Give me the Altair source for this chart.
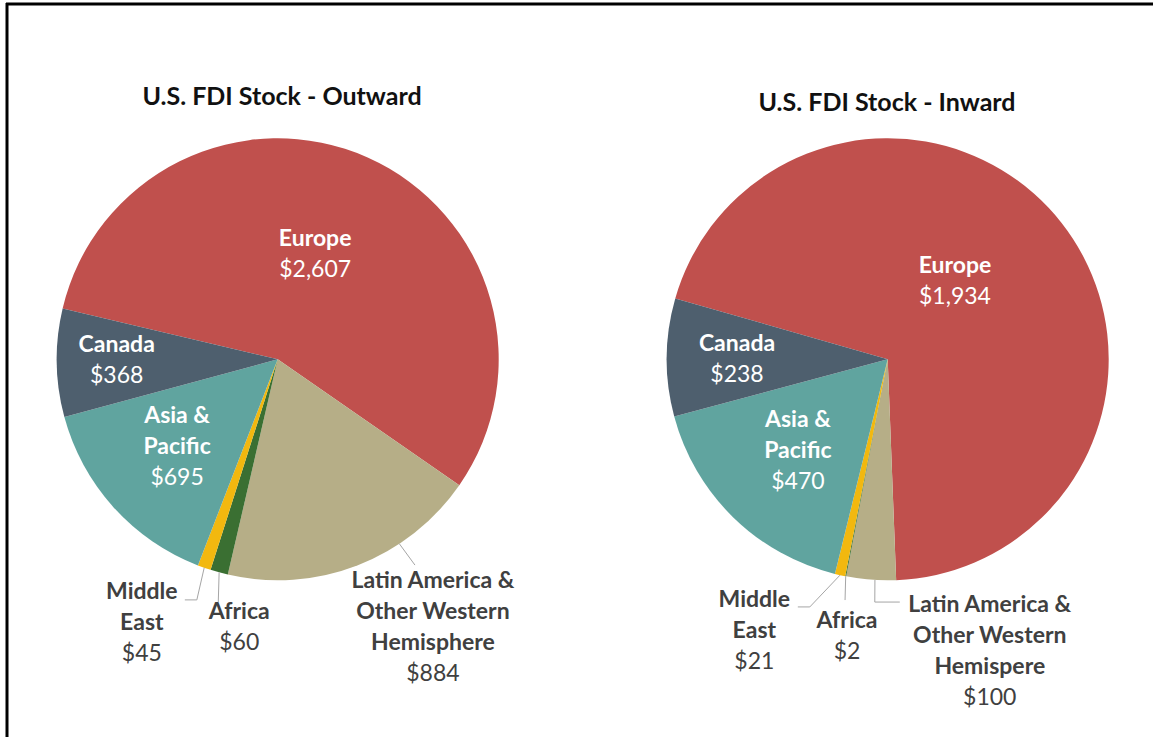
import math
import altair as alt
import pandas as pd

# ---------------- data ----------------
regions = ["Europe", "Latin America & Other Western Hemisphere", "Africa",
           "Middle East", "Asia & Pacific", "Canada"]
outward_values = [2607, 884, 60, 45, 695, 368]
inward_values = [1934, 100, 2, 21, 470, 238]
outward_labels = ["Europe", "Latin America &\nOther Western\nHemisphere", "Africa",
                  "Middle\nEast", "Asia &\nPacific", "Canada"]
inward_labels = ["Europe", "Latin America &\nOther Western\nHemispere", "Africa",
                 "Middle\nEast", "Asia &\nPacific", "Canada"]
titles = ["U.S. FDI Stock - Outward", "U.S. FDI Stock - Inward"]

# ---------------- style ----------------
palette = ["#C0504D", "#B6AE87", "#3A6F32", "#F2B80F", "#60A49F", "#4E5F6E"]
inside_regions = ["Europe", "Canada", "Asia & Pacific"]
FONT = "Lato"
FS = 23
LH = 31
R = 221
W, H = 1153, 737

pie_specs = [
    dict(cx=277.7, cy=359.3, start=283.3, title_x=282, title_y=97,
         place={"Europe": (111, -4.3), "Canada": (161, 0.4), "Asia & Pacific": (133.5, 0.9),
                "Middle East": (297, 7.8), "Africa": (270.5, -7.2),
                "Latin America & Other Western Hemisphere": (309.5, -9.0)},
         leaders={"Middle East": (0, 55, -23.5, 43, -23.5),
                  "Africa": (0, -21, -25, -21, -25),
                  "Latin America & Other Western Hemisphere": (-12.3, -18, -62, -18, -62)}),
    dict(cx=887.7, cy=359.3, start=286.0, title_x=887, title_y=103,
         place={"Europe": (102.5, -10.9), "Canada": (150.7, -0.4), "Asia & Pacific": (128.3, 0),
                "Middle East": (302.6, 13.7), "Africa": (279.7, -2.6),
                "Latin America & Other Western Hemisphere": (309.1, -23.6)},
         leaders={"Middle East": (0, 55.5, -24, 43.5, -24),
                  "Africa": (0, -2, -36, -2, -36),
                  "Latin America & Other Western Hemisphere": (-1.0, -115, -49, -90, -49)}),
]


def pie_layers(values, labels, spec):
    df = pd.DataFrame({"region": regions, "label": labels, "value": values,
                       "order": list(range(len(regions)))})
    df["inside"] = df["region"].isin(inside_regions)
    df["lr"] = [spec["place"][r][0] for r in regions]
    df["loff"] = [spec["place"][r][1] for r in regions]
    ld = [spec["leaders"].get(r, (0, 0, 0, 0, 0)) for r in regions]
    df["lead_off"] = [v[0] for v in ld]
    df["kdx"] = [v[1] for v in ld]
    df["kdy"] = [v[2] for v in ld]
    df["tdx"] = [v[3] for v in ld]
    df["tdy"] = [v[4] for v in ld]
    cx, cy = spec["cx"], spec["cy"]
    start = math.radians(spec["start"])

    base = (
        alt.Chart(df)
        .transform_joinaggregate(total="sum(value)")
        .transform_window(cum="sum(value)", sort=[alt.SortField("order", order="ascending")],
                          frame=[None, 0])
        .transform_calculate(
            a1=f"{start} + 2*PI*datum.cum/datum.total",
            a0="datum.a1 - 2*PI*datum.value/datum.total",
            mid="(datum.a0 + datum.a1)/2",
            la="datum.mid + datum.loff*PI/180",
            bx=f"{cx} + datum.lr*sin(datum.la)",
            by=f"{cy} - datum.lr*cos(datum.la)",
            nl="length(split(datum.label, '\\n')) + 1",
            ny=f"datum.by - (datum.nl - 1)*{LH}/2",
            vy=f"datum.by + (datum.nl - 1)*{LH}/2",
            vtext="'$' + format(datum.value, ',')",
            le="datum.mid + datum.lead_off*PI/180",
            ex=f"{cx} + {R}*sin(datum.le)",
            ey=f"{cy} - {R}*cos(datum.le)",
            kx="datum.bx + datum.kdx",
            ky="datum.by + datum.kdy",
            tx="datum.bx + datum.tdx",
            ty="datum.by + datum.tdy",
        )
    )

    arcs = base.mark_arc(outerRadius=R).encode(
        theta=alt.Theta("a0:Q", scale=None),
        theta2="a1:Q",
        color=alt.Color("region:N", scale=alt.Scale(domain=regions, range=palette), legend=None),
        x=alt.value(cx),
        y=alt.value(cy),
    )

    def txt(filt, field, yfield, color, weight):
        return base.transform_filter(filt).mark_text(
            font=FONT, fontSize=FS, fontWeight=weight, color=color, align="center",
            baseline="middle", lineBreak="\n", lineHeight=LH,
        ).encode(
            x=alt.X("bx:Q", scale=None, axis=None),
            y=alt.Y(f"{yfield}:Q", scale=None, axis=None),
            text=f"{field}:N",
        )

    in_names = txt("datum.inside", "label", "ny", "white", "bold")
    in_vals = txt("datum.inside", "vtext", "vy", "white", "normal")
    out_names = txt("!datum.inside", "label", "ny", "#404040", "bold")
    out_vals = txt("!datum.inside", "vtext", "vy", "#404040", "normal")

    seg1 = base.transform_filter("!datum.inside").mark_rule(color="#A5A5A5", strokeWidth=1).encode(
        x=alt.X("ex:Q", scale=None, axis=None), y=alt.Y("ey:Q", scale=None, axis=None),
        x2="kx:Q", y2="ky:Q")
    seg2 = base.transform_filter("!datum.inside").mark_rule(color="#A5A5A5", strokeWidth=1).encode(
        x=alt.X("kx:Q", scale=None, axis=None), y=alt.Y("ky:Q", scale=None, axis=None),
        x2="tx:Q", y2="ty:Q")

    title = alt.Chart(pd.DataFrame({"t": [0]})).mark_text(
        font=FONT, fontSize=25, fontWeight="bold", color="#111111", align="center", baseline="middle"
    ).encode(x=alt.value(spec["title_x"]), y=alt.value(spec["title_y"]),
             text=alt.value(spec["title"]))

    return [arcs, seg1, seg2, in_names, in_vals, out_names, out_vals, title]


pie_specs[0]["title"] = titles[0]
pie_specs[1]["title"] = titles[1]

left = pie_layers(outward_values, outward_labels, pie_specs[0])
right = pie_layers(inward_values, inward_labels, pie_specs[1])

dummy = pd.DataFrame({"k": [0]})
frame_top = alt.Chart(dummy).mark_rule(color="black", strokeWidth=3).encode(
    x=alt.value(6), x2=alt.value(W), y=alt.value(4))
frame_left = alt.Chart(dummy).mark_rule(color="black", strokeWidth=3).encode(
    x=alt.value(7), y=alt.value(3), y2=alt.value(H))

chart = alt.layer(*left, *right, frame_top, frame_left).properties(
    width=W, height=H, padding=0, autosize="none", background="white"
).configure_view(strokeWidth=0)

chart.save("out.html", embed_options={"renderer": "svg", "actions": False})
